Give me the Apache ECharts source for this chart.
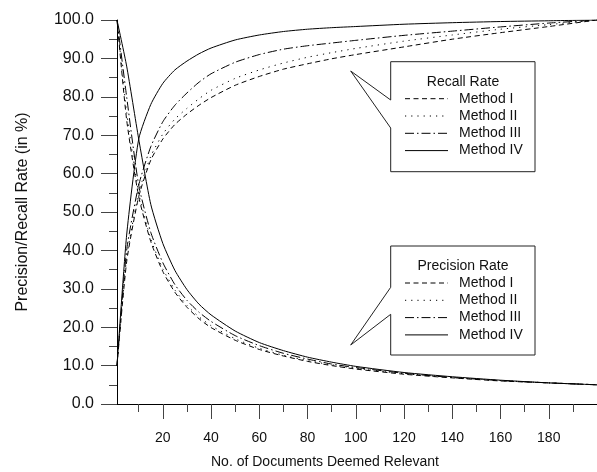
<!DOCTYPE html>
<html>
<head>
<meta charset="utf-8">
<script src="https://cdn.jsdelivr.net/npm/echarts@6/dist/echarts.min.js"></script>
<style>
	html, body { margin: 0; padding: 0; background: #fff; }
	#chart { width: 597px; height: 472px; }
</style>
</head>
<body>
<div id="chart"></div>
<script>
// 文档数 (x)
const docs = [1, 5, 10, 15, 20, 25, 30, 35, 40, 50, 60, 70, 80, 90, 100, 120, 140, 160, 180, 200];

// 查全率 Recall
const recallM1 = [10, 37, 54, 63.5, 69, 72.8, 75.5, 77.8, 79.8, 83, 85.3, 87.2, 88.6, 89.9, 91, 93, 95, 96.7, 98.3, 100];
const recallM2 = [10, 38, 55, 64.5, 70.3, 74.2, 77, 79.5, 81.7, 84.8, 87, 88.8, 90.3, 91.5, 92.6, 94.5, 96.1, 97.6, 98.8, 100];
const recallM3 = [10, 40, 57, 67, 73.5, 77.8, 81, 83.8, 86, 89, 91, 92.4, 93.3, 94, 94.7, 96, 97.1, 98.2, 99.2, 100];
const recallM4 = [10, 44, 69, 78, 83.5, 87, 89.3, 91.2, 92.7, 94.8, 96.1, 97, 97.6, 98, 98.3, 98.9, 99.3, 99.6, 99.8, 100];

// 查准率 Precision
const precM1 = [100, 74, 54, 42.3, 34.5, 29.1, 25.2, 22.2, 19.9, 16.6, 14.2, 12.5, 11.1, 10.0, 9.1, 7.75, 6.8, 6.0, 5.5, 5.0];
const precM2 = [100, 76, 55, 43, 35.2, 29.7, 25.7, 22.7, 20.4, 17, 14.5, 12.7, 11.3, 10.2, 9.3, 7.9, 6.9, 6.1, 5.5, 5.0];
const precM3 = [100, 80, 57, 44.7, 36.8, 31.1, 27, 23.9, 21.5, 17.8, 15.2, 13.2, 11.7, 10.4, 9.5, 8.0, 6.9, 6.1, 5.5, 5.0];
const precM4 = [100, 88, 69, 52, 41.8, 34.8, 29.8, 26, 23.2, 19, 16, 13.9, 12.2, 10.9, 9.8, 8.2, 7.1, 6.2, 5.5, 5.0];

// 刻度
const xMajorTicks = [20, 40, 60, 80, 100, 120, 140, 160, 180];
const xMinorTicks = [10, 30, 50, 70, 90, 110, 130, 150, 170, 190];
const methodNames = ["Method I", "Method II", "Method III", "Method IV"];

const FONT = "Liberation Sans, Arial, sans-serif";

// 线型
const dashes = [[5, 3.5], [1.2, 5], [9, 3, 1.5, 3], null];

function pairs(ys) {
	return docs.map((x, i) => [x, ys[i]]);
}

function lineSeries(name, ys, idx) {
	return {
		name: name,
		type: "line",
		data: pairs(ys),
		symbol: "none",
		smooth: 0.2,
		lineStyle: {
			color: "#000",
			width: 1,
			type: dashes[idx] || "solid",
		},
		animation: false,
	};
}

// 图例（带指针的标注框）
function callout(box, tip, p1, p2, title) {
	const [x0, y0, x1, y1] = box;
	const els = [];
	els.push({
		type: "polygon",
		shape: {
			points: [[x0, y0], [x1, y0], [x1, y1], [x0, y1], [x0, p2], tip, [x0, p1]],
		},
		style: { fill: "#fff", stroke: "#222", lineWidth: 1 },
		z: 100,
	});
	els.push({
		type: "text",
		x: 463,
		y: y0 + 20,
		style: { text: title, font: "14px " + FONT, fill: "#111", align: "center", verticalAlign: "middle" },
		z: 101,
	});
	methodNames.forEach((m, i) => {
		const yy = y0 + 37 + i * 17.3;
		els.push({
			type: "line",
			shape: { x1: 405, y1: yy, x2: 448, y2: yy },
			style: { stroke: "#000", lineWidth: 1, lineDash: dashes[i] || null },
			z: 101,
		});
		els.push({
			type: "text",
			x: 459,
			y: yy,
			style: { text: m, font: "14px " + FONT, fill: "#111", align: "left", verticalAlign: "middle" },
			z: 101,
		});
	});
	return els;
}

const chart = echarts.init(document.getElementById("chart"), null, { renderer: "canvas" });

const option = {
	backgroundColor: "#fff",
	animation: false,
	grid: { left: 117, right: -2, top: 20, bottom: 68 },
	xAxis: [
		{
			type: "value",
			min: 1,
			max: 200,
			axisLine: { lineStyle: { color: "#000", width: 1 } },
			axisTick: { show: true, length: 15, customValues: xMajorTicks, lineStyle: { color: "#444" } },
			axisLabel: { customValues: xMajorTicks, margin: 27, fontFamily: FONT, fontSize: 14, color: "#111" },
			splitLine: { show: false },
		},
		{
			type: "value",
			min: 1,
			max: 200,
			position: "bottom",
			axisLine: { show: false },
			axisTick: { show: true, length: 8, customValues: xMinorTicks, lineStyle: { color: "#444" } },
			axisLabel: { show: false },
			splitLine: { show: false },
		},
	],
	yAxis: {
		type: "value",
		min: 0,
		max: 100,
		interval: 10,
		name: "Precision/Recall Rate (in %)",
		nameLocation: "middle",
		nameGap: 86,
		nameTextStyle: { fontFamily: FONT, fontSize: 16, color: "#111" },
		axisLine: { show: true, lineStyle: { color: "#000", width: 1 } },
		axisTick: { show: true, length: 16, lineStyle: { color: "#444" } },
		minorTick: { show: true, splitNumber: 2, length: 8, lineStyle: { color: "#444" } },
		axisLabel: {
			margin: 23,
			fontFamily: FONT,
			fontSize: 16,
			color: "#111",
			formatter: (v) => v.toFixed(1),
		},
		splitLine: { show: false },
	},
	series: [
		lineSeries("Recall I", recallM1, 0),
		lineSeries("Recall II", recallM2, 1),
		lineSeries("Recall III", recallM3, 2),
		lineSeries("Recall IV", recallM4, 3),
		lineSeries("Precision I", precM1, 0),
		lineSeries("Precision II", precM2, 1),
		lineSeries("Precision III", precM3, 2),
		lineSeries("Precision IV", precM4, 3),
	],
	graphic: [].concat(
		callout([390.7, 61.7, 535, 171.7], [350.7, 71], 100, 128, "Recall Rate"),
		callout([390.7, 246, 535, 355], [350.7, 345], 287.3, 314.3, "Precision Rate"),
		[{
			type: "text",
			x: 325,
			y: 462,
			style: {
				text: "No. of Documents Deemed Relevant",
				font: "14px " + FONT,
				fill: "#111",
				align: "center",
				verticalAlign: "middle",
			},
		}]
	),
};

chart.setOption(option);
</script>
</body>
</html>
